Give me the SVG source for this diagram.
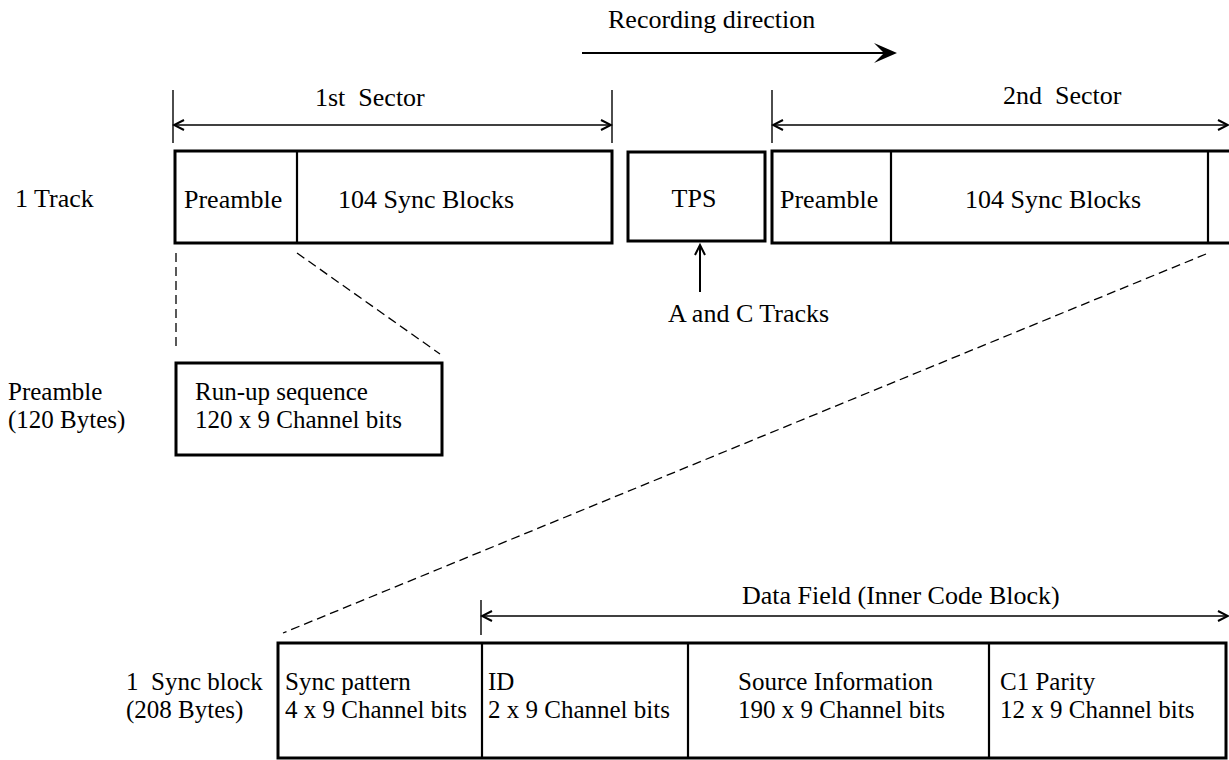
<svg xmlns="http://www.w3.org/2000/svg" width="1229" height="760" viewBox="0 0 1229 760">
<defs>
<style>
text{font-family:"Liberation Serif","Times New Roman",serif;font-size:26px;fill:#000;white-space:pre}
text.two{font-size:25px}
.box{fill:#fff;stroke:#000;stroke-width:3}
.div{stroke:#000;stroke-width:2.2;fill:none}
.thin{stroke:#000;stroke-width:1.4;fill:none}
.dash{stroke:#000;stroke-width:1.3;fill:none;stroke-dasharray:9 5}
.mid{text-anchor:middle}
</style>
<marker id="chev" viewBox="-12 -7 14 14" markerWidth="14" markerHeight="14" refX="0" refY="0" orient="auto-start-reverse" markerUnits="userSpaceOnUse">
<path d="M-10,-5 L0,0 L-10,5" fill="none" stroke="#000" stroke-width="2"/>
</marker>
</defs>
<rect width="1229" height="760" fill="#fff"/>

<g id="recording-direction">
<text x="608" y="28">Recording direction</text>
<line x1="582" y1="53" x2="886" y2="53" stroke="#000" stroke-width="2"/>
<path d="M897,53 L874,43 L884,53 L874,63 Z" fill="#000"/>
</g>

<g id="labels">
<text x="15" y="207">1 Track</text>
<text class="two" x="8" y="400">Preamble</text>
<text class="two" x="8" y="428">(120 Bytes)</text>
<text class="two" x="126" y="690">1  Sync block</text>
<text class="two" x="126" y="718">(208 Bytes)</text>
</g>

<g id="sector1">
<text x="315" y="106">1st  Sector</text>
<rect class="box" x="175" y="151" width="437" height="92"/>
<line class="div" x1="297" y1="151" x2="297" y2="243"/>
<text x="184" y="208">Preamble</text>
<text x="338" y="208">104 Sync Blocks</text>
</g>

<g id="tps">
<rect class="box" x="628" y="152" width="137" height="89"/>
<text class="mid" x="694" y="207">TPS</text>
<text x="668" y="322">A and C Tracks</text>
</g>

<g id="sector2">
<text x="1003" y="104">2nd  Sector</text>
<path d="M1232,151 L772,151 L772,243 L1232,243" fill="none" stroke="#000" stroke-width="3"/>
<line class="div" x1="891" y1="151" x2="891" y2="243"/>
<line class="div" x1="1208" y1="151" x2="1208" y2="243"/>
<text x="780" y="208">Preamble</text>
<text x="965" y="208">104 Sync Blocks</text>
</g>

<g id="runup">
<rect class="box" x="176" y="363" width="266" height="92"/>
<text class="two" x="195" y="400">Run-up sequence</text>
<text class="two" x="195" y="428">120 x 9 Channel bits</text>
</g>

<g id="syncblock">
<text x="742" y="604">Data Field (Inner Code Block)</text>
<rect class="box" x="278" y="643" width="948" height="115"/>
<line class="div" x1="482" y1="643" x2="482" y2="758"/>
<line class="div" x1="688" y1="643" x2="688" y2="758"/>
<line class="div" x1="989" y1="643" x2="989" y2="758"/>
<text class="two" x="285" y="690">Sync pattern</text>
<text class="two" x="285" y="718">4 x 9 Channel bits</text>
<text class="two" x="488" y="690">ID</text>
<text class="two" x="488" y="718">2 x 9 Channel bits</text>
<text class="two" x="738" y="690">Source Information</text>
<text class="two" x="738" y="718">190 x 9 Channel bits</text>
<text class="two" x="1000" y="690">C1 Parity</text>
<text class="two" x="1000" y="718">12 x 9 Channel bits</text>
</g>

<g id="connectors">
<line class="thin" x1="173" y1="90" x2="173" y2="143"/>
<line class="thin" x1="612" y1="90" x2="612" y2="143"/>
<line class="thin" x1="174" y1="125" x2="611" y2="125" marker-start="url(#chev)" marker-end="url(#chev)"/>
<line class="thin" x1="772" y1="90" x2="772" y2="143"/>
<line class="thin" x1="773" y1="125" x2="1228" y2="125" marker-start="url(#chev)" marker-end="url(#chev)"/>
<line x1="700" y1="292" x2="700" y2="245" stroke="#000" stroke-width="2" marker-end="url(#chev)"/>
<line class="dash" x1="176" y1="253" x2="176" y2="347"/>
<line class="dash" x1="297" y1="253" x2="440" y2="354"/>
<line class="dash" x1="1206" y1="254" x2="283" y2="633"/>
<line class="thin" x1="481" y1="600" x2="481" y2="635"/>
<line class="thin" x1="482" y1="616" x2="1228" y2="616" marker-start="url(#chev)" marker-end="url(#chev)"/>
</g>
</svg>
